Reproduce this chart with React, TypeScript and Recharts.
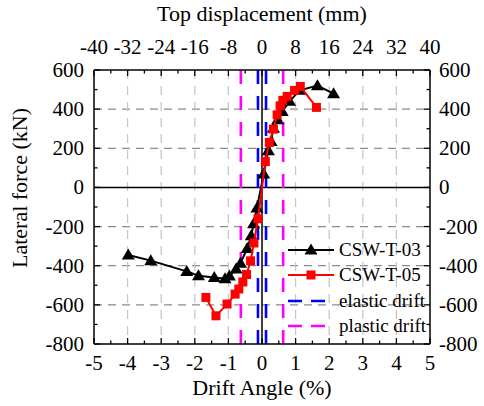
import React from "react";
import {
  ComposedChart, Scatter, XAxis, YAxis, CartesianGrid,
  ReferenceLine, Legend, Label,
} from "recharts";

// skeleton curves: drift angle (%) vs lateral force (kN)
const drift03 = [-3.98, -3.31, -2.24, -1.89, -1.42, -1.1, -0.97, -0.77, -0.64, -0.44, -0.32, -0.25, -0.15, 0.05, 0.19, 0.27, 0.34, 0.47, 0.6, 0.82, 1.12, 1.65, 2.13];
const force03 = [-345, -374, -429, -451, -460, -467, -453, -417, -387, -312, -247, -186, -105, 68, 188, 235, 303, 346, 388, 440, 496, 520, 479];

const drift05 = [-1.67, -1.37, -1.04, -0.8, -0.69, -0.57, -0.46, -0.34, -0.24, -0.12, 0.1, 0.22, 0.34, 0.45, 0.54, 0.62, 0.75, 0.97, 1.14, 1.62];
const force05 = [-562, -656, -596, -545, -519, -483, -445, -375, -284, -160, 132, 230, 298, 371, 417, 445, 465, 496, 516, 409];

const elasticDrift = [-0.12, 0.12];
const plasticDrift = [-0.63, 0.63];

const xTicks = [-5, -4.5, -4, -3.5, -3, -2.5, -2, -1.5, -1, -0.5, 0, 0.5, 1, 1.5, 2, 2.5, 3, 3.5, 4, 4.5, 5];
const xGrid = [-4, -3, -2, -1, 1, 2, 3, 4];
const displacementLabels = [-40, -32, -24, -16, -8, 0, 8, 16, 24, 32, 40];
const yTicks = [-800, -700, -600, -500, -400, -300, -200, -100, 0, 100, 200, 300, 400, 500, 600];
const yGrid = [-600, -400, -200, 200, 400];

const data03 = drift03.map((x, i) => ({ x, y: force03[i] }));
const data05 = drift05.map((x, i) => ({ x, y: force05[i] }));

const FONT = "'Liberation Serif', 'Times New Roman', serif";
const txt = { fontFamily: FONT, fill: "#000" };

const makeTick = (side: "bottom" | "top" | "left" | "right") => (props: any) => {
  const { x, y, payload } = props;
  const v = payload.value;
  const horiz = side === "bottom" || side === "top";
  const major = horiz ? Number.isInteger(v) : v % 200 === 0;
  const len = major ? 6 : 3.5;
  let line;
  let label = null;
  if (side === "bottom") {
    line = <line x1={x} y1={y} x2={x} y2={y - len} stroke="#000" strokeWidth={1.3} />;
    if (major) label = <text x={x} y={y + 26} textAnchor="middle" fontSize={21} style={txt}>{String(v)}</text>;
  } else if (side === "top") {
    line = <line x1={x} y1={y} x2={x} y2={y + len} stroke="#000" strokeWidth={1.3} />;
    if (major) label = <text x={x} y={y - 16} textAnchor="middle" fontSize={21} style={txt}>{String(displacementLabels[v + 5])}</text>;
  } else if (side === "left") {
    line = <line x1={x} y1={y} x2={x + len} y2={y} stroke="#000" strokeWidth={1.3} />;
    if (major) label = <text x={x - 10} y={y + 7} textAnchor="end" fontSize={21} style={txt}>{String(v)}</text>;
  } else {
    line = <line x1={x} y1={y} x2={x - len} y2={y} stroke="#000" strokeWidth={1.3} />;
    if (major) label = <text x={x + 9} y={y + 7} textAnchor="start" fontSize={21} style={txt}>{String(v)}</text>;
  }
  return (
    <g>
      {line}
      {label}
    </g>
  );
};

const Triangle = (p: any) => (
  <polygon points={`${p.cx},${p.cy - 6.5} ${p.cx + 6.5},${p.cy + 4.5} ${p.cx - 6.5},${p.cy + 4.5}`} fill="#000" />
);
const Square = (p: any) => <rect x={p.cx - 4.5} y={p.cy - 4.5} width={9} height={9} fill="#ff0000" />;

const legendRows = [
  { name: "CSW-T-03", color: "#000000", dash: undefined, mark: "tri" },
  { name: "CSW-T-05", color: "#ff0000", dash: undefined, mark: "sq" },
  { name: "elastic drift", color: "#0000ff", dash: "14 9", mark: "" },
  { name: "plastic drift", color: "#ff00ff", dash: "14 9", mark: "" },
];

const LegendBox = () => (
  <div style={{ fontFamily: FONT, fontSize: 19, color: "#000" }}>
    {legendRows.map((r) => (
      <div key={r.name} style={{ display: "flex", alignItems: "center", height: 25.5 }}>
        <svg width={50} height={20} style={{ display: "block" }}>
          <line x1={2} y1={10} x2={48} y2={10} stroke={r.color} strokeWidth={r.dash ? 2.6 : 2} strokeDasharray={r.dash} />
          {r.mark === "tri" && <polygon points="25,3.5 31.5,14.5 18.5,14.5" fill="#000" />}
          {r.mark === "sq" && <rect x={20.5} y={5.5} width={9} height={9} fill="#ff0000" />}
        </svg>
        <span style={{ marginLeft: 3, lineHeight: "20px", whiteSpace: "nowrap" }}>{r.name}</span>
      </div>
    ))}
  </div>
);

export default function App() {
  return (
    <div style={{ position: "absolute", left: 0, top: 0, fontFamily: FONT }}>
      <ComposedChart width={484} height={406} margin={{ top: 0, right: 0, bottom: 0, left: 0 }}>
        <CartesianGrid vertical={false} horizontalValues={yGrid} stroke="#8c8c8c" strokeDasharray="8 6" strokeWidth={1.2} />
        <CartesianGrid horizontal={false} verticalValues={xGrid} stroke="#c4c4c4" strokeDasharray="9 7" strokeWidth={1.2} />
        <XAxis
          dataKey="x" type="number" domain={[-5, 5]} ticks={xTicks} interval={0} allowDataOverflow
          height={62} tickSize={0} tickMargin={0} tickLine={false}
          axisLine={{ stroke: "#000", strokeWidth: 1.5 }} tick={makeTick("bottom")}
        >
          <Label content={(p: any) => (
            <text x={p.viewBox.x + p.viewBox.width / 2} y={p.viewBox.y + 51} textAnchor="middle" fontSize={22} style={txt}>
              Drift Angle (%)
            </text>
          )} />
        </XAxis>
        <XAxis
          xAxisId="top" orientation="top" dataKey="x" type="number" domain={[-5, 5]} ticks={xTicks} interval={0} allowDataOverflow
          height={70} tickSize={0} tickMargin={0} tickLine={false}
          axisLine={{ stroke: "#000", strokeWidth: 1.5 }} tick={makeTick("top")}
        >
          <Label content={(p: any) => (
            <text x={p.viewBox.x + p.viewBox.width / 2} y={21} textAnchor="middle" fontSize={22} style={txt}>
              Top displacement (mm)
            </text>
          )} />
        </XAxis>
        <YAxis
          dataKey="y" type="number" domain={[-800, 600]} ticks={yTicks} interval={0} allowDataOverflow
          width={94} tickSize={0} tickMargin={0} tickLine={false}
          axisLine={{ stroke: "#000", strokeWidth: 1.5 }} tick={makeTick("left")}
        >
          <Label content={() => (
            <text x={27} y={188} transform="rotate(-90 27 188)" textAnchor="middle" fontSize={22} style={txt}>
              Lateral force (kN)
            </text>
          )} />
        </YAxis>
        <YAxis
          yAxisId="right" orientation="right" dataKey="y" type="number" domain={[-800, 600]} ticks={yTicks} interval={0} allowDataOverflow
          width={54} tickSize={0} tickMargin={0} tickLine={false}
          axisLine={{ stroke: "#000", strokeWidth: 1.5 }} tick={makeTick("right")}
        />
        <ReferenceLine y={0} stroke="#000" strokeWidth={1.5} />
        <ReferenceLine x={0} stroke="#000" strokeWidth={1.5} />
        {elasticDrift.map((d) => (
          <ReferenceLine key={`e${d}`} x={d} stroke="#0000ff" strokeWidth={2.6} strokeDasharray="14 12" />
        ))}
        {plasticDrift.map((d) => (
          <ReferenceLine key={`p${d}`} x={d} stroke="#ff00ff" strokeWidth={2.6} strokeDasharray="14 12" />
        ))}
        <Scatter name="CSW-T-03" data={data03} line={{ stroke: "#000", strokeWidth: 2 }} lineType="joint" shape={Triangle} isAnimationActive={false} />
        <Scatter name="CSW-T-05" data={data05} line={{ stroke: "#ff0000", strokeWidth: 2 }} lineType="joint" shape={Square} isAnimationActive={false} />
        <Legend
          layout="vertical" align="center" verticalAlign="middle"
          content={() => <LegendBox />}
          wrapperStyle={{ left: 286, top: 237, width: 150, height: 104 }}
        />
      </ComposedChart>
    </div>
  );
}
